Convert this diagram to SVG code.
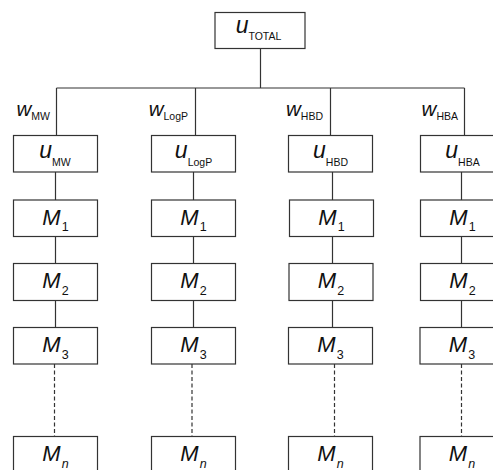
<svg xmlns="http://www.w3.org/2000/svg" width="493" height="470" viewBox="0 0 493 470">
<style>
.box{fill:#fff;stroke:#333;stroke-width:1.2}
.ln{fill:none;stroke:#333;stroke-width:1.2}
.ds{fill:none;stroke:#333;stroke-width:1.2;stroke-dasharray:4 2.5}
text{font-family:"Liberation Sans",Arial,sans-serif;fill:#111}
.big{font-size:23px;font-style:italic}
.bm{font-size:22px;font-style:italic}
.wl{font-size:20.5px;font-style:italic}
.sub{font-size:10.5px;font-style:normal}
.subm{font-size:12.5px;font-style:normal}
.subn{font-size:12.5px;font-style:italic}
</style>
<rect width="493" height="470" fill="#fff"/>
<g id="connectors">
<path class="ln" d="M260.5 48.5V88M56.5 88H464.5M56.5 88V135.5M195.5 88V135.5M330.5 88V135.5M464.5 88V135.5"/>
<path class="ln" d="M55.5 172V200M55.5 236.5V263.5M55.5 300.5V327.5"/>
<path class="ln" d="M193.5 172V200M193.5 236.5V263.5M193.5 300.5V327.5"/>
<path class="ln" d="M332.5 172V200M332.5 236.5V263.5M332.5 300.5V327.5"/>
<path class="ln" d="M461.5 172V200M461.5 236.5V263.5M461.5 300.5V327.5"/>
<path class="ds" d="M54.5 364V436.5M192 364V436.5M334.5 364V436.5M461.5 364V436.5"/>
</g>
<g id="labels-w">
<text class="wl" x="50" y="115.5" text-anchor="end">w<tspan class="sub" dy="4.5">MW</tspan></text>
<text class="wl" x="188" y="115.5" text-anchor="end">w<tspan class="sub" dy="4.5">LogP</tspan></text>
<text class="wl" x="323" y="115.5" text-anchor="end">w<tspan class="sub" dy="4.5">HBD</tspan></text>
<text class="wl" x="458" y="115.5" text-anchor="end">w<tspan class="sub" dy="4.5">HBA</tspan></text>
</g>
<g id="u-total"><rect class="box" x="215" y="12.5" width="90" height="36"/><text class="big" x="258.5" y="32.5" text-anchor="middle">u<tspan class="sub" dy="7">TOTAL</tspan></text></g>
<g id="u-mw"><rect class="box" x="13.5" y="135.5" width="84" height="36.5"/><text class="big" x="55" y="158" text-anchor="middle">u<tspan class="sub" dy="8">MW</tspan></text></g>
<g id="u-logp"><rect class="box" x="151.5" y="135.5" width="84" height="36.5"/><text class="big" x="193.5" y="158" text-anchor="middle">u<tspan class="sub" dy="8">LogP</tspan></text></g>
<g id="u-hbd"><rect class="box" x="288.5" y="135.5" width="84" height="36.5"/><text class="big" x="330.5" y="158" text-anchor="middle">u<tspan class="sub" dy="8">HBD</tspan></text></g>
<g id="u-hba"><rect class="box" x="420.5" y="135.5" width="84" height="36.5"/><text class="big" x="462.5" y="158" text-anchor="middle">u<tspan class="sub" dy="8">HBA</tspan></text></g>
<g id="mw-m1"><rect class="box" x="13.5" y="200" width="84" height="36.5"/><text class="bm" x="55.5" y="224.5" text-anchor="middle">M<tspan class="subm" dx="1" dy="6.5">1</tspan></text></g>
<g id="mw-m2"><rect class="box" x="13.5" y="263.5" width="84" height="37"/><text class="bm" x="55.5" y="288" text-anchor="middle">M<tspan class="subm" dx="1" dy="6.5">2</tspan></text></g>
<g id="mw-m3"><rect class="box" x="13.5" y="327.5" width="84" height="36.5"/><text class="bm" x="55.5" y="352" text-anchor="middle">M<tspan class="subm" dx="1" dy="6.5">3</tspan></text></g>
<g id="mw-mn"><rect class="box" x="13.5" y="436.5" width="84" height="40"/><text class="bm" x="55.5" y="461" text-anchor="middle">M<tspan class="subn" dx="1" dy="6.5">n</tspan></text></g>
<g id="logp-m1"><rect class="box" x="151.5" y="200" width="84" height="36.5"/><text class="bm" x="193.5" y="224.5" text-anchor="middle">M<tspan class="subm" dx="1" dy="6.5">1</tspan></text></g>
<g id="logp-m2"><rect class="box" x="151.5" y="263.5" width="84" height="37"/><text class="bm" x="193.5" y="288" text-anchor="middle">M<tspan class="subm" dx="1" dy="6.5">2</tspan></text></g>
<g id="logp-m3"><rect class="box" x="151.5" y="327.5" width="84" height="36.5"/><text class="bm" x="193.5" y="352" text-anchor="middle">M<tspan class="subm" dx="1" dy="6.5">3</tspan></text></g>
<g id="logp-mn"><rect class="box" x="151.5" y="436.5" width="84" height="40"/><text class="bm" x="193.5" y="461" text-anchor="middle">M<tspan class="subn" dx="1" dy="6.5">n</tspan></text></g>
<g id="hbd-m1"><rect class="box" x="289.5" y="200" width="84" height="36.5"/><text class="bm" x="331.5" y="224.5" text-anchor="middle">M<tspan class="subm" dx="1" dy="6.5">1</tspan></text></g>
<g id="hbd-m2"><rect class="box" x="289" y="263.5" width="84" height="37"/><text class="bm" x="331" y="288" text-anchor="middle">M<tspan class="subm" dx="1" dy="6.5">2</tspan></text></g>
<g id="hbd-m3"><rect class="box" x="288.5" y="327.5" width="84" height="36.5"/><text class="bm" x="330.5" y="352" text-anchor="middle">M<tspan class="subm" dx="1" dy="6.5">3</tspan></text></g>
<g id="hbd-mn"><rect class="box" x="288.5" y="436.5" width="84" height="40"/><text class="bm" x="330.5" y="461" text-anchor="middle">M<tspan class="subn" dx="1" dy="6.5">n</tspan></text></g>
<g id="hba-m1"><rect class="box" x="420.5" y="200" width="84" height="36.5"/><text class="bm" x="462.5" y="224.5" text-anchor="middle">M<tspan class="subm" dx="1" dy="6.5">1</tspan></text></g>
<g id="hba-m2"><rect class="box" x="420.5" y="263.5" width="84" height="37"/><text class="bm" x="462.5" y="288" text-anchor="middle">M<tspan class="subm" dx="1" dy="6.5">2</tspan></text></g>
<g id="hba-m3"><rect class="box" x="420" y="327.5" width="84" height="36.5"/><text class="bm" x="462" y="352" text-anchor="middle">M<tspan class="subm" dx="1" dy="6.5">3</tspan></text></g>
<g id="hba-mn"><rect class="box" x="420" y="436.5" width="84" height="40"/><text class="bm" x="462" y="461" text-anchor="middle">M<tspan class="subn" dx="1" dy="6.5">n</tspan></text></g>
</svg>
